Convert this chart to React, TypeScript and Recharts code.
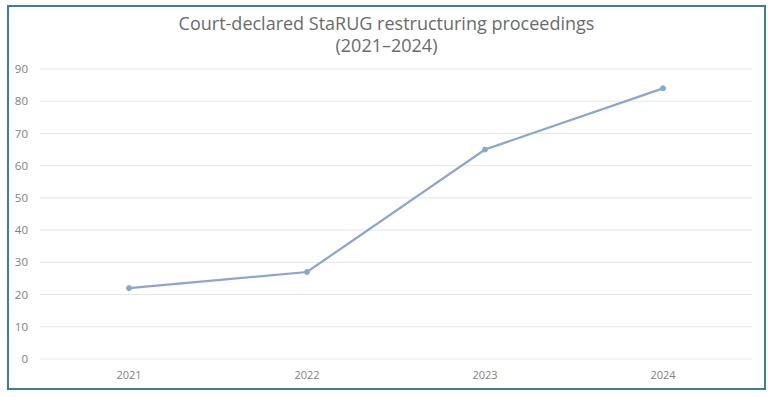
import { LineChart, Line, XAxis, YAxis, CartesianGrid } from "recharts";

const years = ["2021", "2022", "2023", "2024"];
const proceedings = [22, 27, 65, 84];
const yTicks = [0, 10, 20, 30, 40, 50, 60, 70, 80, 90];

const data = years.map((year, i) => ({ year, value: proceedings[i] }));

export default function App() {
  return (
    <div style={{ position: "absolute", left: 0, top: 0, width: 773, height: 397, background: "#fff" }}>
      <div
        style={{
          position: "absolute",
          left: 7,
          top: 5,
          width: 755,
          height: 381,
          border: "2px solid #3d7f97",
        }}
      />
      <div
        style={{
          position: "absolute",
          left: 0,
          top: 12,
          width: 773,
          textAlign: "center",
          fontFamily: "'Open Sans', sans-serif",
          fontSize: 18,
          lineHeight: "22px",
          color: "#6b6b6b",
        }}
      >
        Court-declared StaRUG restructuring proceedings
        <br />
        (2021–2024)
      </div>
      <div style={{ position: "absolute", left: 0, top: 0 }}>
        <LineChart width={773} height={397} data={data} margin={{ top: 69, right: 21, left: 0, bottom: 8 }}>
          <CartesianGrid vertical={false} stroke="#e6e6e6" />
          <XAxis
            dataKey="year"
            padding={{ left: 89, right: 89 }}
            axisLine={false}
            tickLine={false}
            tickMargin={6}
            tick={{ fontSize: 11, fill: "#7f7f7f", fontFamily: "'Open Sans', sans-serif" }}
          />
          <YAxis
            width={40}
            domain={[0, 90]}
            ticks={yTicks}
            axisLine={false}
            tickLine={false}
            tickMargin={6}
            tick={{ fontSize: 11.5, fill: "#7f7f7f", fontFamily: "'Open Sans', sans-serif" }}
          />
          <Line
            type="linear"
            dataKey="value"
            stroke="#8aa6d4"
            strokeWidth={2.25}
            dot={{ r: 2.5, fill: "#8aa6d4", stroke: "#8aa6d4", strokeWidth: 1 }}
            isAnimationActive={false}
          />
        </LineChart>
      </div>
    </div>
  );
}
